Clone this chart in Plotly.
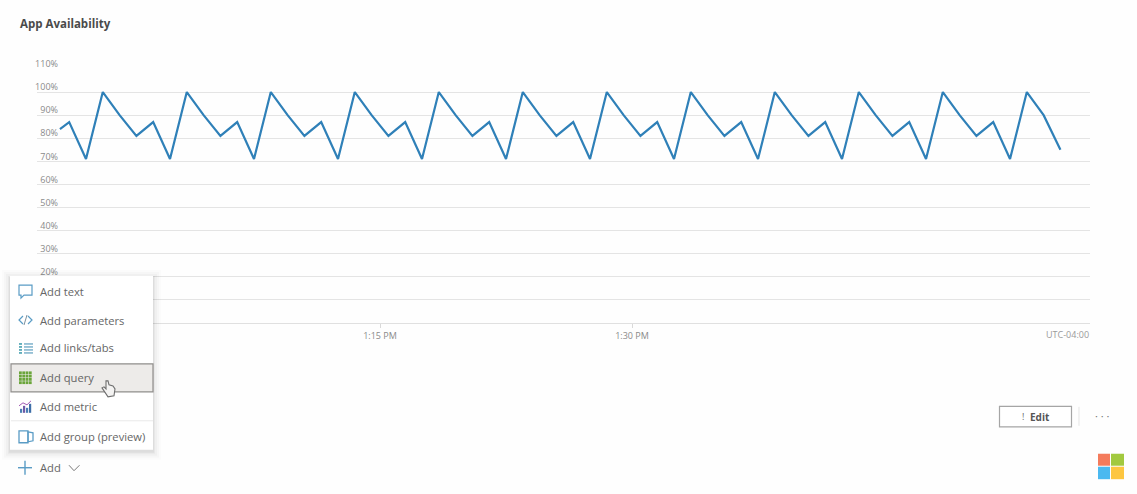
import plotly.graph_objects as go

W, H = 1137, 494
L, R, T, B = 37, 1090, 68.5, 323

DAY = "2024-01-01 "
times = [
    "12:55:57", "12:56:30", "12:57:30",
    "12:58:30", "12:59:30", "13:00:30", "13:01:30", "13:02:30",
    "13:03:30", "13:04:30", "13:05:30", "13:06:30", "13:07:30",
    "13:08:30", "13:09:30", "13:10:30", "13:11:30", "13:12:30",
    "13:13:30", "13:14:30", "13:15:30", "13:16:30", "13:17:30",
    "13:18:30", "13:19:30", "13:20:30", "13:21:30", "13:22:30",
    "13:23:30", "13:24:30", "13:25:30", "13:26:30", "13:27:30",
    "13:28:30", "13:29:30", "13:30:30", "13:31:30", "13:32:30",
    "13:33:30", "13:34:30", "13:35:30", "13:36:30", "13:37:30",
    "13:38:30", "13:39:30", "13:40:30", "13:41:30", "13:42:30",
    "13:43:30", "13:44:30", "13:45:30", "13:46:30", "13:47:30",
    "13:48:30", "13:49:30", "13:50:30", "13:51:30", "13:52:30",
    "13:53:30", "13:54:30", "13:55:30",
]
availability = [
    84, 87, 71,
    100, 90, 81, 87, 71,
    100, 90, 81, 87, 71,
    100, 90, 81, 87, 71,
    100, 90, 81, 87, 71,
    100, 90, 81, 87, 71,
    100, 90, 81, 87, 71,
    100, 90, 81, 87, 71,
    100, 90, 81, 87, 71,
    100, 90, 81, 87, 71,
    100, 90, 81, 87, 71,
    100, 90, 81, 87, 71,
    100, 90, 75,
]
y_ticks = [0, 10, 20, 30, 40, 50, 60, 70, 80, 90, 100, 110]
y_labels = ["", "", "20%", "30%", "40%", "50%", "60%", "70%", "80%", "90%", "100%", "110%"]
x_ticks = ["13:15:00", "13:30:00"]
x_labels = ["1:15 PM", "1:30 PM"]
menu_items = ["Add text", "Add parameters", "Add links/tabs", "Add query", "Add metric", "Add group (preview)"]

FONT = "Open Sans"


def px(x):
    return (x - L) / (R - L)


def py(y):
    return (B - y) / (B - T)


shapes, annos = [], []


def rect(x0, y0, x1, y1, fill=None, line=None, lw=1):
    shapes.append(dict(type="rect", xref="paper", yref="paper", layer="above",
                       x0=px(x0), x1=px(x1), y0=py(y1), y1=py(y0),
                       fillcolor=fill or "rgba(0,0,0,0)",
                       line=dict(color=line or "rgba(0,0,0,0)", width=lw if line else 0)))


def seg(x0, y0, x1, y1, color, lw=1):
    shapes.append(dict(type="line", xref="paper", yref="paper", layer="above",
                       x0=px(x0), x1=px(x1), y0=py(y0), y1=py(y1),
                       line=dict(color=color, width=lw)))


def poly(points, fill=None, line=None, lw=1, close=True):
    d = "M" + " L".join(f"{px(a):.5f},{py(b):.5f}" for a, b in points) + (" Z" if close else "")
    shapes.append(dict(type="path", xref="paper", yref="paper", layer="above", path=d,
                       fillcolor=fill or "rgba(0,0,0,0)",
                       line=dict(color=line or "rgba(0,0,0,0)", width=lw if line else 0)))


def text(x, y, s, size=11, color="#5f5f5f", anchor="left", bold=False):
    annos.append(dict(xref="paper", yref="paper", x=px(x), y=py(y), text=f"<b>{s}</b>" if bold else s,
                      showarrow=False, xanchor=anchor, yanchor="middle",
                      font=dict(family=FONT, size=size, color=color)))


# Title and time-zone note
text(18, 23, "App Availability", size=11.5, color="#4a4a4a", bold=True)
text(1091, 335, "UTC-04:00", size=9, color="#9a9a9a", anchor="right")

# Floating menu with soft shadow
for g, a in ((8, 0.012), (6, 0.018), (4, 0.025), (2, 0.035), (1, 0.04)):
    rect(10 - g, 276 - g + 2, 153 + g, 450 + g + 2, fill=f"rgba(0,0,0,{a})")
rect(10, 276, 153, 450, fill="#ffffff")
rect(11, 364, 153, 392, fill="#edebe9", line="#8f8d8b", lw=1.2)
seg(11, 421, 153, 421, "#e9e9e9", 1)
for label, yy in zip(menu_items, [291, 320, 348, 378, 407, 437]):
    text(38, yy, label, size=11.2, color="#666666")

BLUE = "#5a9cc5"
# comment icon
poly([(19, 285), (32, 285), (32, 295), (24, 295), (21, 298), (21, 295), (19, 295)], line=BLUE, lw=1.2)
# code icon
poly([(23, 316), (19, 320), (23, 324)], line=BLUE, lw=1.2, close=False)
poly([(28, 316), (32, 320), (28, 324)], line=BLUE, lw=1.2, close=False)
seg(24, 325, 27, 315, "#7b8f9c", 1)
# links icon
for yy in (344, 347, 350, 353):
    seg(24, yy, 33, yy, "#6aa6c4", 1.3)
    seg(19, yy, 22, yy, "#46a0b0", 1.6)
# query icon
for i in range(4):
    for j in range(4):
        rect(19 + i * 3.3, 371.5 + j * 3.3, 21.8 + i * 3.3, 374.3 + j * 3.3, fill="#6aa53a")
# metric icon
for xx, h, c in ((20, 4, "#4a7fb5"), (23, 7, "#6f5aa8"), (26, 5, "#4a7fb5"), (29, 9, "#3f6fa8")):
    rect(xx, 413 - h, xx + 2.2, 413, fill=c)
poly([(19, 406), (23, 403), (27, 405), (31, 401)], line="#a35bb5", lw=1, close=False)
# group icon
rect(19, 431, 28, 443, line=BLUE, lw=1.3)
poly([(28, 432), (33, 433), (33, 441), (28, 442)], line=BLUE, lw=1.3)
# hand cursor
poly([(106, 381), (108, 381), (109, 385), (113, 386), (115, 389), (114, 396),
      (108, 397), (104, 391), (102, 388), (104, 387), (106, 389)],
     fill="#f4f3f2", line="#6e6e6e", lw=1.1)

# Add button
seg(25, 461, 25, 475, BLUE, 1.4)
seg(18, 468, 32, 468, BLUE, 1.4)
text(38, 468, "Add", size=11.2, color="#666666")
poly([(69, 465.5), (74, 471), (79.5, 465.5)], line="#7a7a7a", lw=1, close=False)

# Edit button and overflow
rect(999.5, 406.5, 1071.5, 427, fill="#ffffff", line="#a5a5a5", lw=1.2)
text(1023, 417, "!", size=9, color="#666666", anchor="center")
text(1040, 417, "Edit", size=10, color="#555555", anchor="center", bold=True)
seg(1079, 407, 1079, 426, "#e5e5e5", 1)
text(1101.5, 416, "· · ·", size=11, color="#777777", anchor="center")

# Logo
rect(1098, 454, 1110, 466, fill="#f47b5c")
rect(1111, 454, 1124, 466, fill="#a2c93f")
rect(1098, 467, 1110, 479.5, fill="#4bb9f0")
rect(1111, 467, 1124, 479.5, fill="#fdc640")

fig = go.Figure(go.Scatter(
    x=[DAY + t for t in times], y=availability, mode="lines",
    line=dict(color="#2f80b8", width=2.2, shape="linear"), hoverinfo="skip",
))
fig.update_layout(
    width=W, height=H, autosize=False, showlegend=False,
    margin=dict(l=L, r=W - R, t=T, b=H - B, pad=0),
    paper_bgcolor="#fefefe", plot_bgcolor="#fefefe",
    font=dict(family=FONT, size=9, color="#8a8a8a"),
    shapes=shapes, annotations=annos,
)
fig.update_xaxes(
    type="date", range=[DAY + "12:54:35", DAY + "13:57:15.6"],
    tickmode="array", tickvals=[DAY + t for t in x_ticks], ticktext=x_labels,
    showgrid=False, zeroline=False, showline=True, linecolor="#e0e0e0", linewidth=1,
    ticks="outside", ticklen=4, tickcolor="#d9d9d9", tickwidth=1,
    tickfont=dict(family=FONT, size=9, color="#8a8a8a"),
)
fig.update_yaxes(
    range=[0, 110], tickmode="array", tickvals=y_ticks, ticktext=y_labels,
    showgrid=True, gridcolor="#e4e4e4", gridwidth=1, zeroline=False, showline=False,
    ticks="", ticklabelstandoff=-22, ticklabelshift=-5,
    tickfont=dict(family=FONT, size=9, color="#8a8a8a"),
)
fig.write_html("out.html", config=dict(displayModeBar=False),
               post_script="document.body.style.margin='0';document.documentElement.style.overflow='hidden';")
